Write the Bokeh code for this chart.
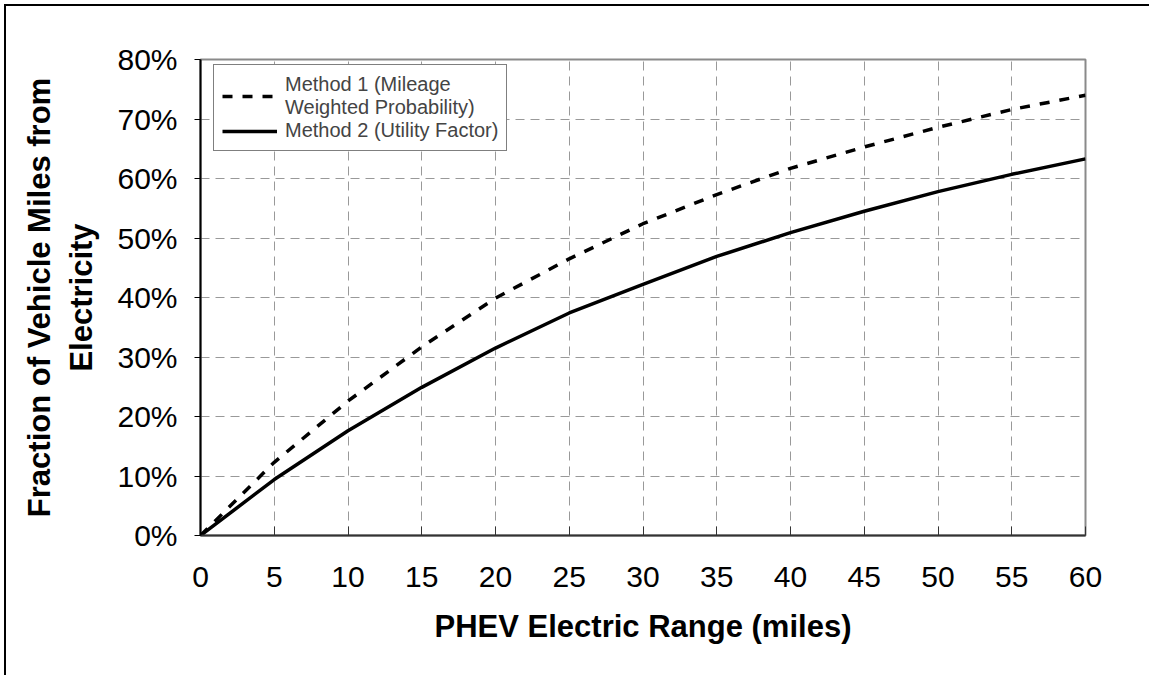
from bokeh.plotting import figure
from bokeh.models import (ColumnDataSource, NumeralTickFormatter, SingleIntervalTicker,
                          Legend, LegendItem, Range1d)
from bokeh.embed import file_html
from bokeh.resources import INLINE

# ---- data ----
electric_range = [0, 5, 10, 15, 20, 25, 30, 35, 40, 45, 50, 55, 60]
method1_mwp = [0.0, 0.123, 0.226, 0.317, 0.399, 0.465, 0.524, 0.573, 0.617, 0.653, 0.686, 0.716, 0.740]
method2_uf = [0.0, 0.094, 0.176, 0.249, 0.315, 0.374, 0.422, 0.469, 0.509, 0.545, 0.578, 0.607, 0.633]

label_m1 = "Method 1 (Mileage\nWeighted Probability)"
label_m2 = "Method 2 (Utility Factor)"
x_title = "PHEV Electric Range (miles)"
y_title = "Fraction of Vehicle Miles from\nElectricity"

FONT = "Liberation Sans"

src = ColumnDataSource(dict(x=electric_range, m1=method1_mwp, m2=method2_uf))

p = figure(width=1143, height=669, output_backend="svg", toolbar_location=None,
           x_range=Range1d(0, 60), y_range=Range1d(0, 0.8),
           min_border_left=194, min_border_right=66, min_border_top=53, min_border_bottom=142)
# outer frame of the image: only the left and top edges are visible in the reference
p.styles = {"border-left": "2px solid black", "border-top": "2px solid black",
            "box-sizing": "content-box", "margin-left": "4px", "margin-top": "4px"}
p.background_fill_color = "white"
p.border_fill_color = "white"
p.outline_line_color = "#8a8a8a"
p.outline_line_width = 2

r1 = p.line("x", "m1", source=src, line_color="black", line_width=3.5, line_dash="10 10")
r2 = p.line("x", "m2", source=src, line_color="black", line_width=3.5)

# axes
p.xaxis.ticker = SingleIntervalTicker(interval=5)
p.yaxis.ticker = SingleIntervalTicker(interval=0.1)
p.yaxis.formatter = NumeralTickFormatter(format="0%")
p.xaxis.minor_tick_line_color = None
p.yaxis.minor_tick_line_color = None

for ax in (p.xaxis, p.yaxis):
    ax.major_label_text_font = FONT
    ax.major_label_text_font_size = "30px"
    ax.major_label_text_color = "black"
    ax.axis_label_text_font = FONT
    ax.axis_label_text_font_size = "31px"
    ax.axis_label_text_font_style = "bold"
    ax.axis_label_text_color = "black"
    ax.axis_line_width = 2

p.xaxis.axis_line_color = "#333333"
p.xaxis.major_tick_line_color = "#333333"
p.xaxis.major_tick_in = 9
p.xaxis.major_tick_out = 0
p.xaxis.major_label_standoff = 27
p.xaxis.axis_label = x_title
p.xaxis.axis_label_standoff = 19

p.yaxis.axis_line_color = "black"
p.yaxis.major_tick_line_color = "black"
p.yaxis.major_tick_in = 0
p.yaxis.major_tick_out = 6
p.yaxis.major_label_standoff = 17
p.yaxis.axis_label = y_title
p.yaxis.axis_label_standoff = 15

# grid
for g in (p.xgrid, p.ygrid):
    g.grid_line_color = "#999999"
    g.grid_line_width = 1
    g.grid_line_dash = "9 6"

# legend (location = bottom-left corner offset from the frame's bottom-left)
legend = Legend(items=[LegendItem(label=label_m1, renderers=[r1]),
                       LegendItem(label=label_m2, renderers=[r2])],
                location=(13, 384))
legend.padding = 8
legend.spacing = 0
legend.label_standoff = 8
legend.glyph_width = 55
legend.glyph_height = 20
legend.label_height = 20
legend.label_text_font = FONT
legend.label_text_font_size = "20px"
legend.border_line_color = "black"
legend.border_line_width = 1
legend.background_fill_alpha = 1.0
p.add_layout(legend)

open("out.html", "w").write(file_html(p, INLINE))
